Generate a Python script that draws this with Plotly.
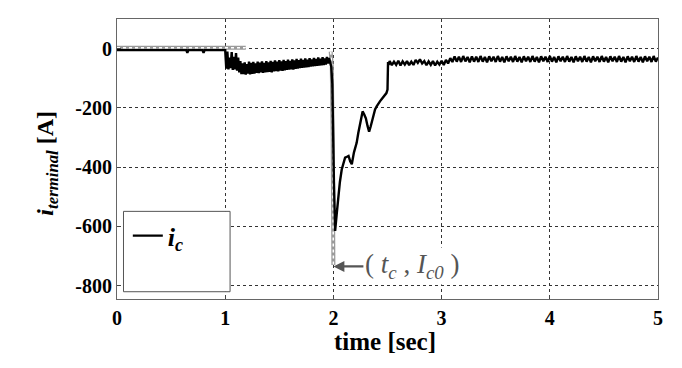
import plotly.graph_objects as go

# ---- data ----
t_pre = [0.0, 0.64, 0.65, 0.66, 0.79, 0.80, 0.81, 0.995]
i_pre = [-5, -5, -14, -5, -5, -14, -5, -5]

t_osc1 = [1.00, 1.01, 1.02, 1.03, 1.04, 1.05, 1.06, 1.07, 1.08, 1.09, 1.10, 1.11, 1.12, 1.13, 1.14, 1.15]
i_osc1 = [-5, -68, -10, -70, -30, -66, -12, -72, -28, -70, -15, -74, -30, -80, -42, -86]

t_osc2 = [1.16, 1.17, 1.18, 1.19, 1.20, 1.21, 1.22, 1.23, 1.24, 1.25,
          1.26, 1.27, 1.28, 1.29, 1.30, 1.31, 1.32, 1.33, 1.34, 1.35,
          1.36, 1.37, 1.38, 1.39, 1.40, 1.41, 1.42, 1.43, 1.44, 1.45,
          1.46, 1.47, 1.48, 1.49, 1.50, 1.51, 1.52, 1.53, 1.54, 1.55,
          1.56, 1.57, 1.58, 1.59, 1.60, 1.61, 1.62, 1.63, 1.64, 1.65,
          1.66, 1.67, 1.68, 1.69, 1.70, 1.71, 1.72, 1.73, 1.74, 1.75,
          1.76, 1.77, 1.78, 1.79, 1.80, 1.81, 1.82, 1.83, 1.84, 1.85,
          1.86, 1.87, 1.88, 1.89, 1.90, 1.91, 1.92, 1.93, 1.94, 1.95]
i_osc2 = [-50, -86, -46, -88, -52, -84, -44, -87, -48, -85,
          -45, -84, -50, -82, -44, -83, -47, -80, -43, -82,
          -48, -80, -42, -79, -46, -78, -41, -80, -45, -77,
          -40, -76, -44, -77, -39, -74, -43, -75, -38, -73,
          -42, -72, -37, -71, -41, -70, -36, -71, -40, -68,
          -35, -67, -39, -66, -34, -65, -38, -64, -33, -63,
          -37, -62, -32, -61, -36, -60, -31, -59, -35, -58,
          -30, -57, -34, -56, -29, -55, -33, -54, -28, -50]

t_fault = [1.96, 1.98, 1.99, 2.005, 2.016, 2.03, 2.046, 2.06, 2.077, 2.095,
           2.108, 2.125, 2.14, 2.155, 2.17, 2.19, 2.215, 2.23, 2.246, 2.26,
           2.27, 2.285, 2.30, 2.315, 2.33, 2.345, 2.354, 2.37, 2.385, 2.40,
           2.416, 2.43, 2.447, 2.46, 2.477, 2.49, 2.50, 2.505, 2.51]
i_fault = [-32, -60, -120, -450, -615, -560, -498, -450, -408, -385,
           -368, -365, -362, -380, -390, -350, -318, -285, -250, -225,
           -212, -222, -235, -260, -280, -262, -248, -222, -205, -195,
           -188, -178, -170, -165, -158, -150, -138, -45, -55]

t_post = [2.52, 2.54, 2.56, 2.58, 2.60, 2.62, 2.64, 2.66, 2.68, 2.70,
          2.72, 2.74, 2.76, 2.78, 2.80, 2.82, 2.84, 2.86, 2.88, 2.90,
          2.92, 2.94, 2.96, 2.98, 3.00, 3.02, 3.04, 3.06, 3.08, 3.10,
          3.12, 3.14, 3.16, 3.18, 3.20, 3.22, 3.24, 3.26, 3.28, 3.30,
          3.32, 3.34, 3.36, 3.38, 3.40, 3.42, 3.44, 3.46, 3.48, 3.50,
          3.52, 3.54, 3.56, 3.58, 3.60, 3.62, 3.64, 3.66, 3.68, 3.70,
          3.72, 3.74, 3.76, 3.78, 3.80, 3.82, 3.84, 3.86, 3.88, 3.90,
          3.92, 3.94, 3.96, 3.98, 4.00, 4.02, 4.04, 4.06, 4.08, 4.10,
          4.12, 4.14, 4.16, 4.18, 4.20, 4.22, 4.24, 4.26, 4.28, 4.30,
          4.32, 4.34, 4.36, 4.38, 4.40, 4.42, 4.44, 4.46, 4.48, 4.50,
          4.52, 4.54, 4.56, 4.58, 4.60, 4.62, 4.64, 4.66, 4.68, 4.70,
          4.72, 4.74, 4.76, 4.78, 4.80, 4.82, 4.84, 4.86, 4.88, 4.90,
          4.92, 4.94, 4.96, 4.98, 5.00]
i_post = [-42, -56, -44, -55, -41, -57, -43, -54, -42, -56,
          -44, -55, -38, -48, -36, -50, -42, -56, -43, -55,
          -42, -57, -44, -54, -41, -55, -38, -50, -32, -45,
          -26, -44, -27, -45, -25, -43, -28, -46, -26, -44,
          -27, -45, -25, -44, -28, -46, -26, -43, -27, -45,
          -25, -44, -28, -46, -26, -43, -27, -45, -25, -44,
          -28, -46, -26, -43, -27, -45, -25, -44, -28, -46,
          -26, -43, -27, -45, -25, -44, -28, -46, -26, -43,
          -27, -45, -25, -44, -28, -46, -26, -43, -27, -45,
          -25, -44, -28, -46, -26, -43, -27, -45, -25, -44,
          -28, -46, -26, -43, -27, -45, -25, -44, -28, -46,
          -26, -43, -27, -45, -25, -44, -28, -46, -26, -43,
          -27, -45, -25, -44, -30]

t_ref = [0.0, 1.19, None, 1.975, 1.985, 1.993, 2.0]
i_ref = [3, 3, None, -10, -60, -300, -730]

x_ticks = [0, 1, 2, 3, 4, 5]
y_ticks = [0, -200, -400, -600, -800]

t_ic = t_pre + t_osc1 + t_osc2 + t_fault + t_post
i_ic = i_pre + i_osc1 + i_osc2 + i_fault + i_post

SERIF = "Liberation Serif, Times New Roman, serif"

fig = go.Figure()
# reference (gray hollow dotted) curve
fig.add_trace(go.Scatter(x=t_ref, y=i_ref, mode="lines", showlegend=False,
                         line=dict(color="#9a9a9a", width=4), hoverinfo="skip"))
fig.add_trace(go.Scatter(x=t_ref, y=i_ref, mode="lines", showlegend=False,
                         line=dict(color="white", width=1.5, dash="dot"), hoverinfo="skip"))
# i_c
fig.add_trace(go.Scatter(x=t_ic, y=i_ic, mode="lines", name="<b><i>i<sub>c</sub></i></b>",
                         line=dict(color="black", width=2.4)))

fig.update_layout(
    width=682, height=368,
    margin=dict(l=117, r=24, t=19, b=69),
    paper_bgcolor="white", plot_bgcolor="white",
    showlegend=True,
    legend=dict(x=0.02, y=0.31, xanchor="left", yanchor="top",
                bgcolor="rgba(0,0,0,0)", borderwidth=0,
                font=dict(family=SERIF, size=26, color="black")),
    shapes=[dict(type="rect", xref="paper", yref="paper",
                 x0=0.012, x1=0.209, y0=0.026, y1=0.313,
                 line=dict(color="#555", width=1), fillcolor="white", layer="above")],
    annotations=[
        dict(x=2.0, y=-735, xref="x", yref="y", ax=30, ay=0, axref="pixel", ayref="pixel",
             showarrow=True, arrowhead=2, arrowsize=1, arrowwidth=2.2, arrowcolor="#555",
             text="( <i>t<sub>c</sub></i> , <i>I<sub>c0</sub></i> )", xanchor="left",
             bgcolor="white", font=dict(family=SERIF, size=27, color="#555")),
        dict(x=0.495, y=-0.1525, xref="paper", yref="paper", showarrow=False,
             text="<b>time [sec]</b>", yanchor="middle",
             font=dict(family=SERIF, size=25, color="black")),
        dict(x=-0.16, y=0.485, xref="paper", yref="paper", showarrow=False,
             textangle=-90, text="<b><i>i</i><sub><i>terminal</i></sub> [A]</b>",
             font=dict(family=SERIF, size=24, color="black")),
    ],
)

fig.update_xaxes(range=[0, 5], tickvals=x_ticks, ticktext=[str(v) for v in x_ticks],
                 showline=True, linecolor="#666", linewidth=1, mirror=True,
                 ticks="inside", ticklen=4, tickcolor="#444",
                 showgrid=True, gridcolor="#333", gridwidth=1, griddash="3px,3px",
                 zeroline=False, ticklabelstandoff=1,
                 tickfont=dict(family=SERIF, size=20, color="black", weight="bold"))
fig.update_yaxes(range=[-845, 100], tickvals=y_ticks, ticktext=[str(v) for v in y_ticks],
                 showline=True, linecolor="#666", linewidth=1, mirror=True,
                 ticks="inside", ticklen=4, tickcolor="#444",
                 showgrid=True, gridcolor="#333", gridwidth=1, griddash="3px,3px",
                 zeroline=False,
                 tickfont=dict(family=SERIF, size=20, color="black", weight="bold"))

fig.write_html("out.html", post_script="document.body.style.margin='0';",
               config={"displayModeBar": False})
